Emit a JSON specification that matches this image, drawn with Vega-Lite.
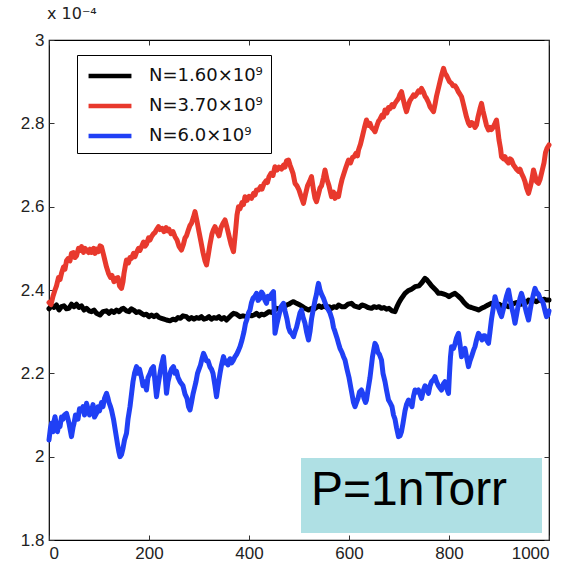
{
  "$schema": "https://vega.github.io/schema/vega-lite/v6.json",
  "width": 500,
  "height": 500,
  "autosize": "none",
  "padding": {"left": 49, "top": 40, "right": 27, "bottom": 26},
  "background": "white",
  "title": {"text": "x 10⁻⁴", "anchor": "start", "frame": "group", "offset": 9, "fontSize": 16, "fontWeight": "normal", "font": "DejaVu Sans", "color": "#222", "dx": -2},
  "config": {
    "view": {"stroke": "black", "strokeWidth": 1.2},
    "axis": {"grid": false, "domain": false, "ticks": true, "tickSize": 5, "offset": -5, "tickColor": "#333", "labelFont": "Liberation Sans", "labelFontSize": 17, "labelColor": "#222", "title": null, "labelPadding": 5}
  },
  "datasets": {
    "lines": [
{"s":"a","x":0,"y":2.355},{"s":"a","x":5,"y":2.362},{"s":"a","x":10,"y":2.358},{"s":"a","x":15,"y":2.364},{"s":"a","x":20,"y":2.352},{"s":"a","x":25,"y":2.36},{"s":"a","x":30,"y":2.362},{"s":"a","x":35,"y":2.355},{"s":"a","x":40,"y":2.356},{"s":"a","x":45,"y":2.366},{"s":"a","x":50,"y":2.36},{"s":"a","x":55,"y":2.366},{"s":"a","x":60,"y":2.358},{"s":"a","x":65,"y":2.362},{"s":"a","x":70,"y":2.352},{"s":"a","x":75,"y":2.356},{"s":"a","x":80,"y":2.35},{"s":"a","x":85,"y":2.348},{"s":"a","x":90,"y":2.352},{"s":"a","x":95,"y":2.344},{"s":"a","x":102,"y":2.34},{"s":"a","x":108,"y":2.348},{"s":"a","x":115,"y":2.35},{"s":"a","x":120,"y":2.344},{"s":"a","x":125,"y":2.35},{"s":"a","x":130,"y":2.346},{"s":"a","x":135,"y":2.352},{"s":"a","x":140,"y":2.348},{"s":"a","x":145,"y":2.354},{"s":"a","x":149,"y":2.356},{"s":"a","x":155,"y":2.35},{"s":"a","x":160,"y":2.348},{"s":"a","x":165,"y":2.355},{"s":"a","x":169,"y":2.352},{"s":"a","x":175,"y":2.346},{"s":"a","x":180,"y":2.348},{"s":"a","x":185,"y":2.344},{"s":"a","x":190,"y":2.34},{"s":"a","x":195,"y":2.342},{"s":"a","x":200,"y":2.336},{"s":"a","x":205,"y":2.34},{"s":"a","x":210,"y":2.336},{"s":"a","x":215,"y":2.34},{"s":"a","x":220,"y":2.334},{"s":"a","x":225,"y":2.332},{"s":"a","x":230,"y":2.33},{"s":"a","x":235,"y":2.328},{"s":"a","x":242,"y":2.326},{"s":"a","x":248,"y":2.33},{"s":"a","x":253,"y":2.328},{"s":"a","x":258,"y":2.334},{"s":"a","x":263,"y":2.332},{"s":"a","x":268,"y":2.338},{"s":"a","x":275,"y":2.336},{"s":"a","x":280,"y":2.33},{"s":"a","x":285,"y":2.334},{"s":"a","x":290,"y":2.33},{"s":"a","x":295,"y":2.334},{"s":"a","x":300,"y":2.332},{"s":"a","x":305,"y":2.336},{"s":"a","x":310,"y":2.33},{"s":"a","x":315,"y":2.332},{"s":"a","x":320,"y":2.336},{"s":"a","x":325,"y":2.33},{"s":"a","x":330,"y":2.334},{"s":"a","x":335,"y":2.332},{"s":"a","x":340,"y":2.336},{"s":"a","x":345,"y":2.33},{"s":"a","x":350,"y":2.334},{"s":"a","x":355,"y":2.328},{"s":"a","x":360,"y":2.334},{"s":"a","x":365,"y":2.34},{"s":"a","x":369,"y":2.344},{"s":"a","x":375,"y":2.342},{"s":"a","x":382,"y":2.336},{"s":"a","x":388,"y":2.338},{"s":"a","x":395,"y":2.336},{"s":"a","x":400,"y":2.34},{"s":"a","x":405,"y":2.338},{"s":"a","x":410,"y":2.34},{"s":"a","x":415,"y":2.344},{"s":"a","x":420,"y":2.338},{"s":"a","x":425,"y":2.342},{"s":"a","x":430,"y":2.34},{"s":"a","x":435,"y":2.344},{"s":"a","x":440,"y":2.348},{"s":"a","x":445,"y":2.346},{"s":"a","x":450,"y":2.35},{"s":"a","x":455,"y":2.356},{"s":"a","x":460,"y":2.354},{"s":"a","x":465,"y":2.36},{"s":"a","x":470,"y":2.358},{"s":"a","x":475,"y":2.364},{"s":"a","x":480,"y":2.366},{"s":"a","x":485,"y":2.37},{"s":"a","x":489,"y":2.372},{"s":"a","x":495,"y":2.368},{"s":"a","x":502,"y":2.364},{"s":"a","x":507,"y":2.36},{"s":"a","x":512,"y":2.356},{"s":"a","x":519,"y":2.352},{"s":"a","x":525,"y":2.356},{"s":"a","x":530,"y":2.354},{"s":"a","x":535,"y":2.358},{"s":"a","x":540,"y":2.362},{"s":"a","x":545,"y":2.358},{"s":"a","x":550,"y":2.362},{"s":"a","x":555,"y":2.358},{"s":"a","x":560,"y":2.36},{"s":"a","x":565,"y":2.356},{"s":"a","x":570,"y":2.36},{"s":"a","x":575,"y":2.358},{"s":"a","x":579,"y":2.364},{"s":"a","x":585,"y":2.36},{"s":"a","x":592,"y":2.36},{"s":"a","x":598,"y":2.366},{"s":"a","x":605,"y":2.368},{"s":"a","x":610,"y":2.362},{"s":"a","x":615,"y":2.36},{"s":"a","x":620,"y":2.358},{"s":"a","x":626,"y":2.364},{"s":"a","x":632,"y":2.362},{"s":"a","x":638,"y":2.358},{"s":"a","x":645,"y":2.356},{"s":"a","x":650,"y":2.36},{"s":"a","x":655,"y":2.358},{"s":"a","x":660,"y":2.36},{"s":"a","x":665,"y":2.356},{"s":"a","x":670,"y":2.358},{"s":"a","x":675,"y":2.354},{"s":"a","x":680,"y":2.356},{"s":"a","x":686,"y":2.35},{"s":"a","x":692,"y":2.348},{"s":"a","x":696,"y":2.36},{"s":"a","x":700,"y":2.37},{"s":"a","x":705,"y":2.38},{"s":"a","x":712,"y":2.392},{"s":"a","x":718,"y":2.398},{"s":"a","x":725,"y":2.402},{"s":"a","x":732,"y":2.408},{"s":"a","x":740,"y":2.41},{"s":"a","x":746,"y":2.418},{"s":"a","x":752,"y":2.428},{"s":"a","x":756,"y":2.424},{"s":"a","x":760,"y":2.418},{"s":"a","x":765,"y":2.41},{"s":"a","x":770,"y":2.404},{"s":"a","x":775,"y":2.398},{"s":"a","x":779,"y":2.392},{"s":"a","x":785,"y":2.392},{"s":"a","x":790,"y":2.39},{"s":"a","x":795,"y":2.388},{"s":"a","x":800,"y":2.384},{"s":"a","x":805,"y":2.388},{"s":"a","x":812,"y":2.392},{"s":"a","x":818,"y":2.386},{"s":"a","x":825,"y":2.378},{"s":"a","x":830,"y":2.37},{"s":"a","x":835,"y":2.364},{"s":"a","x":839,"y":2.36},{"s":"a","x":845,"y":2.358},{"s":"a","x":850,"y":2.356},{"s":"a","x":855,"y":2.354},{"s":"a","x":859,"y":2.352},{"s":"a","x":865,"y":2.356},{"s":"a","x":872,"y":2.36},{"s":"a","x":878,"y":2.364},{"s":"a","x":885,"y":2.368},{"s":"a","x":892,"y":2.364},{"s":"a","x":900,"y":2.366},{"s":"a","x":905,"y":2.362},{"s":"a","x":912,"y":2.364},{"s":"a","x":919,"y":2.36},{"s":"a","x":925,"y":2.364},{"s":"a","x":930,"y":2.368},{"s":"a","x":935,"y":2.37},{"s":"a","x":940,"y":2.366},{"s":"a","x":945,"y":2.366},{"s":"a","x":950,"y":2.372},{"s":"a","x":955,"y":2.37},{"s":"a","x":959,"y":2.376},{"s":"a","x":965,"y":2.372},{"s":"a","x":970,"y":2.375},{"s":"a","x":975,"y":2.372},{"s":"a","x":980,"y":2.376},{"s":"a","x":985,"y":2.374},{"s":"a","x":990,"y":2.378},{"s":"a","x":995,"y":2.376},{"s":"a","x":1000,"y":2.376},
{"s":"b","x":0,"y":2.37},{"s":"b","x":4,"y":2.365},{"s":"b","x":8,"y":2.385},{"s":"b","x":12,"y":2.4},{"s":"b","x":15,"y":2.41},{"s":"b","x":19,"y":2.43},{"s":"b","x":22,"y":2.425},{"s":"b","x":25,"y":2.44},{"s":"b","x":29,"y":2.455},{"s":"b","x":32,"y":2.45},{"s":"b","x":35,"y":2.47},{"s":"b","x":38,"y":2.475},{"s":"b","x":42,"y":2.47},{"s":"b","x":45,"y":2.488},{"s":"b","x":49,"y":2.49},{"s":"b","x":52,"y":2.478},{"s":"b","x":55,"y":2.482},{"s":"b","x":59,"y":2.5},{"s":"b","x":62,"y":2.495},{"s":"b","x":65,"y":2.504},{"s":"b","x":69,"y":2.49},{"s":"b","x":72,"y":2.5},{"s":"b","x":75,"y":2.496},{"s":"b","x":79,"y":2.49},{"s":"b","x":82,"y":2.498},{"s":"b","x":85,"y":2.49},{"s":"b","x":89,"y":2.5},{"s":"b","x":92,"y":2.488},{"s":"b","x":95,"y":2.498},{"s":"b","x":99,"y":2.492},{"s":"b","x":102,"y":2.506},{"s":"b","x":105,"y":2.504},{"s":"b","x":108,"y":2.49},{"s":"b","x":112,"y":2.47},{"s":"b","x":115,"y":2.455},{"s":"b","x":119,"y":2.44},{"s":"b","x":123,"y":2.43},{"s":"b","x":126,"y":2.435},{"s":"b","x":130,"y":2.42},{"s":"b","x":134,"y":2.428},{"s":"b","x":138,"y":2.43},{"s":"b","x":141,"y":2.41},{"s":"b","x":145,"y":2.404},{"s":"b","x":148,"y":2.42},{"s":"b","x":150,"y":2.44},{"s":"b","x":153,"y":2.46},{"s":"b","x":155,"y":2.472},{"s":"b","x":159,"y":2.465},{"s":"b","x":162,"y":2.478},{"s":"b","x":165,"y":2.476},{"s":"b","x":169,"y":2.488},{"s":"b","x":172,"y":2.48},{"s":"b","x":175,"y":2.49},{"s":"b","x":179,"y":2.5},{"s":"b","x":182,"y":2.495},{"s":"b","x":185,"y":2.504},{"s":"b","x":189,"y":2.515},{"s":"b","x":192,"y":2.505},{"s":"b","x":195,"y":2.51},{"s":"b","x":199,"y":2.525},{"s":"b","x":202,"y":2.52},{"s":"b","x":205,"y":2.528},{"s":"b","x":209,"y":2.535},{"s":"b","x":212,"y":2.538},{"s":"b","x":215,"y":2.545},{"s":"b","x":219,"y":2.552},{"s":"b","x":222,"y":2.545},{"s":"b","x":226,"y":2.548},{"s":"b","x":230,"y":2.54},{"s":"b","x":234,"y":2.55},{"s":"b","x":237,"y":2.542},{"s":"b","x":240,"y":2.546},{"s":"b","x":244,"y":2.535},{"s":"b","x":248,"y":2.54},{"s":"b","x":252,"y":2.528},{"s":"b","x":256,"y":2.52},{"s":"b","x":260,"y":2.505},{"s":"b","x":265,"y":2.496},{"s":"b","x":269,"y":2.51},{"s":"b","x":272,"y":2.525},{"s":"b","x":275,"y":2.53},{"s":"b","x":279,"y":2.545},{"s":"b","x":282,"y":2.555},{"s":"b","x":285,"y":2.56},{"s":"b","x":289,"y":2.575},{"s":"b","x":292,"y":2.588},{"s":"b","x":296,"y":2.565},{"s":"b","x":300,"y":2.54},{"s":"b","x":304,"y":2.515},{"s":"b","x":308,"y":2.49},{"s":"b","x":312,"y":2.47},{"s":"b","x":315,"y":2.46},{"s":"b","x":318,"y":2.48},{"s":"b","x":322,"y":2.51},{"s":"b","x":326,"y":2.535},{"s":"b","x":329,"y":2.545},{"s":"b","x":332,"y":2.552},{"s":"b","x":336,"y":2.54},{"s":"b","x":340,"y":2.53},{"s":"b","x":344,"y":2.55},{"s":"b","x":348,"y":2.56},{"s":"b","x":352,"y":2.568},{"s":"b","x":356,"y":2.55},{"s":"b","x":360,"y":2.53},{"s":"b","x":364,"y":2.51},{"s":"b","x":369,"y":2.492},{"s":"b","x":373,"y":2.54},{"s":"b","x":376,"y":2.58},{"s":"b","x":379,"y":2.6},{"s":"b","x":382,"y":2.595},{"s":"b","x":386,"y":2.61},{"s":"b","x":389,"y":2.605},{"s":"b","x":392,"y":2.624},{"s":"b","x":396,"y":2.615},{"s":"b","x":400,"y":2.625},{"s":"b","x":405,"y":2.62},{"s":"b","x":409,"y":2.632},{"s":"b","x":412,"y":2.628},{"s":"b","x":415,"y":2.64},{"s":"b","x":419,"y":2.64},{"s":"b","x":423,"y":2.648},{"s":"b","x":426,"y":2.642},{"s":"b","x":430,"y":2.655},{"s":"b","x":434,"y":2.662},{"s":"b","x":437,"y":2.658},{"s":"b","x":440,"y":2.672},{"s":"b","x":444,"y":2.68},{"s":"b","x":448,"y":2.675},{"s":"b","x":452,"y":2.696},{"s":"b","x":456,"y":2.688},{"s":"b","x":460,"y":2.695},{"s":"b","x":465,"y":2.69},{"s":"b","x":469,"y":2.7},{"s":"b","x":472,"y":2.695},{"s":"b","x":475,"y":2.71},{"s":"b","x":479,"y":2.712},{"s":"b","x":482,"y":2.7},{"s":"b","x":485,"y":2.69},{"s":"b","x":488,"y":2.68},{"s":"b","x":492,"y":2.656},{"s":"b","x":496,"y":2.65},{"s":"b","x":500,"y":2.64},{"s":"b","x":504,"y":2.625},{"s":"b","x":509,"y":2.608},{"s":"b","x":513,"y":2.63},{"s":"b","x":517,"y":2.65},{"s":"b","x":521,"y":2.66},{"s":"b","x":525,"y":2.672},{"s":"b","x":529,"y":2.64},{"s":"b","x":532,"y":2.62},{"s":"b","x":535,"y":2.612},{"s":"b","x":539,"y":2.63},{"s":"b","x":542,"y":2.645},{"s":"b","x":545,"y":2.65},{"s":"b","x":549,"y":2.67},{"s":"b","x":552,"y":2.688},{"s":"b","x":556,"y":2.665},{"s":"b","x":560,"y":2.65},{"s":"b","x":565,"y":2.624},{"s":"b","x":569,"y":2.635},{"s":"b","x":572,"y":2.62},{"s":"b","x":576,"y":2.63},{"s":"b","x":579,"y":2.624},{"s":"b","x":583,"y":2.65},{"s":"b","x":586,"y":2.665},{"s":"b","x":590,"y":2.68},{"s":"b","x":594,"y":2.695},{"s":"b","x":597,"y":2.705},{"s":"b","x":599,"y":2.712},{"s":"b","x":603,"y":2.705},{"s":"b","x":607,"y":2.718},{"s":"b","x":610,"y":2.72},{"s":"b","x":614,"y":2.728},{"s":"b","x":617,"y":2.722},{"s":"b","x":619,"y":2.736},{"s":"b","x":623,"y":2.75},{"s":"b","x":627,"y":2.77},{"s":"b","x":631,"y":2.79},{"s":"b","x":635,"y":2.808},{"s":"b","x":639,"y":2.795},{"s":"b","x":642,"y":2.8},{"s":"b","x":645,"y":2.79},{"s":"b","x":649,"y":2.785},{"s":"b","x":652,"y":2.78},{"s":"b","x":656,"y":2.795},{"s":"b","x":659,"y":2.805},{"s":"b","x":662,"y":2.81},{"s":"b","x":666,"y":2.82},{"s":"b","x":669,"y":2.815},{"s":"b","x":672,"y":2.832},{"s":"b","x":676,"y":2.825},{"s":"b","x":679,"y":2.838},{"s":"b","x":682,"y":2.835},{"s":"b","x":686,"y":2.845},{"s":"b","x":689,"y":2.84},{"s":"b","x":692,"y":2.848},{"s":"b","x":696,"y":2.855},{"s":"b","x":699,"y":2.86},{"s":"b","x":702,"y":2.87},{"s":"b","x":705,"y":2.876},{"s":"b","x":708,"y":2.86},{"s":"b","x":712,"y":2.84},{"s":"b","x":715,"y":2.828},{"s":"b","x":719,"y":2.845},{"s":"b","x":722,"y":2.855},{"s":"b","x":725,"y":2.86},{"s":"b","x":729,"y":2.868},{"s":"b","x":732,"y":2.865},{"s":"b","x":735,"y":2.87},{"s":"b","x":739,"y":2.878},{"s":"b","x":742,"y":2.875},{"s":"b","x":745,"y":2.884},{"s":"b","x":749,"y":2.875},{"s":"b","x":752,"y":2.865},{"s":"b","x":755,"y":2.86},{"s":"b","x":759,"y":2.85},{"s":"b","x":762,"y":2.84},{"s":"b","x":765,"y":2.835},{"s":"b","x":769,"y":2.828},{"s":"b","x":772,"y":2.845},{"s":"b","x":775,"y":2.865},{"s":"b","x":778,"y":2.88},{"s":"b","x":782,"y":2.9},{"s":"b","x":785,"y":2.915},{"s":"b","x":789,"y":2.932},{"s":"b","x":792,"y":2.92},{"s":"b","x":795,"y":2.915},{"s":"b","x":797,"y":2.91},{"s":"b","x":801,"y":2.9},{"s":"b","x":805,"y":2.896},{"s":"b","x":808,"y":2.89},{"s":"b","x":812,"y":2.89},{"s":"b","x":815,"y":2.885},{"s":"b","x":819,"y":2.875},{"s":"b","x":822,"y":2.87},{"s":"b","x":825,"y":2.864},{"s":"b","x":828,"y":2.85},{"s":"b","x":832,"y":2.83},{"s":"b","x":835,"y":2.815},{"s":"b","x":839,"y":2.8},{"s":"b","x":842,"y":2.795},{"s":"b","x":845,"y":2.802},{"s":"b","x":848,"y":2.8},{"s":"b","x":852,"y":2.79},{"s":"b","x":855,"y":2.796},{"s":"b","x":858,"y":2.815},{"s":"b","x":862,"y":2.835},{"s":"b","x":865,"y":2.848},{"s":"b","x":868,"y":2.83},{"s":"b","x":872,"y":2.81},{"s":"b","x":875,"y":2.795},{"s":"b","x":879,"y":2.784},{"s":"b","x":882,"y":2.79},{"s":"b","x":885,"y":2.785},{"s":"b","x":888,"y":2.79},{"s":"b","x":892,"y":2.8},{"s":"b","x":895,"y":2.808},{"s":"b","x":898,"y":2.78},{"s":"b","x":900,"y":2.76},{"s":"b","x":903,"y":2.74},{"s":"b","x":905,"y":2.72},{"s":"b","x":909,"y":2.715},{"s":"b","x":912,"y":2.72},{"s":"b","x":915,"y":2.71},{"s":"b","x":919,"y":2.705},{"s":"b","x":922,"y":2.715},{"s":"b","x":925,"y":2.712},{"s":"b","x":929,"y":2.7},{"s":"b","x":932,"y":2.695},{"s":"b","x":935,"y":2.69},{"s":"b","x":939,"y":2.685},{"s":"b","x":942,"y":2.69},{"s":"b","x":945,"y":2.68},{"s":"b","x":949,"y":2.67},{"s":"b","x":952,"y":2.66},{"s":"b","x":955,"y":2.645},{"s":"b","x":959,"y":2.632},{"s":"b","x":962,"y":2.645},{"s":"b","x":965,"y":2.66},{"s":"b","x":969,"y":2.688},{"s":"b","x":972,"y":2.675},{"s":"b","x":975,"y":2.66},{"s":"b","x":979,"y":2.656},{"s":"b","x":982,"y":2.665},{"s":"b","x":985,"y":2.68},{"s":"b","x":987,"y":2.69},{"s":"b","x":990,"y":2.705},{"s":"b","x":993,"y":2.73},{"s":"b","x":996,"y":2.74},{"s":"b","x":1000,"y":2.748},
{"s":"c","x":0,"y":2.04},{"s":"c","x":3,"y":2.07},{"s":"c","x":5,"y":2.08},{"s":"c","x":8,"y":2.06},{"s":"c","x":10,"y":2.085},{"s":"c","x":12,"y":2.096},{"s":"c","x":15,"y":2.075},{"s":"c","x":17,"y":2.06},{"s":"c","x":20,"y":2.08},{"s":"c","x":22,"y":2.072},{"s":"c","x":25,"y":2.095},{"s":"c","x":28,"y":2.09},{"s":"c","x":31,"y":2.1},{"s":"c","x":35,"y":2.104},{"s":"c","x":38,"y":2.09},{"s":"c","x":40,"y":2.08},{"s":"c","x":43,"y":2.06},{"s":"c","x":45,"y":2.048},{"s":"c","x":48,"y":2.07},{"s":"c","x":50,"y":2.08},{"s":"c","x":53,"y":2.1},{"s":"c","x":55,"y":2.096},{"s":"c","x":58,"y":2.09},{"s":"c","x":61,"y":2.115},{"s":"c","x":65,"y":2.11},{"s":"c","x":68,"y":2.12},{"s":"c","x":71,"y":2.1},{"s":"c","x":75,"y":2.128},{"s":"c","x":78,"y":2.115},{"s":"c","x":81,"y":2.1},{"s":"c","x":85,"y":2.11},{"s":"c","x":88,"y":2.125},{"s":"c","x":91,"y":2.095},{"s":"c","x":95,"y":2.104},{"s":"c","x":98,"y":2.12},{"s":"c","x":101,"y":2.11},{"s":"c","x":105,"y":2.13},{"s":"c","x":108,"y":2.12},{"s":"c","x":111,"y":2.14},{"s":"c","x":115,"y":2.152},{"s":"c","x":118,"y":2.14},{"s":"c","x":120,"y":2.13},{"s":"c","x":123,"y":2.12},{"s":"c","x":125,"y":2.112},{"s":"c","x":129,"y":2.09},{"s":"c","x":133,"y":2.06},{"s":"c","x":137,"y":2.03},{"s":"c","x":140,"y":2.01},{"s":"c","x":142,"y":2.0},{"s":"c","x":145,"y":2.005},{"s":"c","x":148,"y":2.02},{"s":"c","x":151,"y":2.04},{"s":"c","x":155,"y":2.056},{"s":"c","x":158,"y":2.09},{"s":"c","x":162,"y":2.12},{"s":"c","x":165,"y":2.15},{"s":"c","x":168,"y":2.18},{"s":"c","x":171,"y":2.2},{"s":"c","x":175,"y":2.216},{"s":"c","x":178,"y":2.2},{"s":"c","x":181,"y":2.21},{"s":"c","x":185,"y":2.19},{"s":"c","x":188,"y":2.17},{"s":"c","x":191,"y":2.18},{"s":"c","x":195,"y":2.16},{"s":"c","x":198,"y":2.19},{"s":"c","x":202,"y":2.2},{"s":"c","x":205,"y":2.21},{"s":"c","x":209,"y":2.216},{"s":"c","x":212,"y":2.18},{"s":"c","x":215,"y":2.144},{"s":"c","x":218,"y":2.17},{"s":"c","x":222,"y":2.2},{"s":"c","x":225,"y":2.22},{"s":"c","x":229,"y":2.24},{"s":"c","x":232,"y":2.2},{"s":"c","x":235,"y":2.152},{"s":"c","x":238,"y":2.18},{"s":"c","x":242,"y":2.2},{"s":"c","x":245,"y":2.21},{"s":"c","x":249,"y":2.216},{"s":"c","x":252,"y":2.2},{"s":"c","x":255,"y":2.205},{"s":"c","x":258,"y":2.19},{"s":"c","x":262,"y":2.18},{"s":"c","x":265,"y":2.175},{"s":"c","x":268,"y":2.17},{"s":"c","x":272,"y":2.15},{"s":"c","x":276,"y":2.14},{"s":"c","x":279,"y":2.12},{"s":"c","x":282,"y":2.112},{"s":"c","x":285,"y":2.13},{"s":"c","x":288,"y":2.15},{"s":"c","x":290,"y":2.16},{"s":"c","x":294,"y":2.18},{"s":"c","x":297,"y":2.2},{"s":"c","x":300,"y":2.21},{"s":"c","x":303,"y":2.22},{"s":"c","x":306,"y":2.235},{"s":"c","x":309,"y":2.248},{"s":"c","x":312,"y":2.24},{"s":"c","x":315,"y":2.23},{"s":"c","x":318,"y":2.23},{"s":"c","x":322,"y":2.215},{"s":"c","x":325,"y":2.21},{"s":"c","x":328,"y":2.2},{"s":"c","x":332,"y":2.17},{"s":"c","x":335,"y":2.144},{"s":"c","x":338,"y":2.17},{"s":"c","x":342,"y":2.2},{"s":"c","x":345,"y":2.22},{"s":"c","x":349,"y":2.24},{"s":"c","x":352,"y":2.225},{"s":"c","x":355,"y":2.23},{"s":"c","x":358,"y":2.22},{"s":"c","x":362,"y":2.235},{"s":"c","x":365,"y":2.225},{"s":"c","x":368,"y":2.23},{"s":"c","x":372,"y":2.24},{"s":"c","x":375,"y":2.245},{"s":"c","x":379,"y":2.255},{"s":"c","x":382,"y":2.264},{"s":"c","x":386,"y":2.28},{"s":"c","x":390,"y":2.3},{"s":"c","x":393,"y":2.32},{"s":"c","x":396,"y":2.33},{"s":"c","x":399,"y":2.345},{"s":"c","x":402,"y":2.352},{"s":"c","x":405,"y":2.37},{"s":"c","x":408,"y":2.38},{"s":"c","x":412,"y":2.385},{"s":"c","x":415,"y":2.392},{"s":"c","x":418,"y":2.375},{"s":"c","x":422,"y":2.38},{"s":"c","x":425,"y":2.395},{"s":"c","x":428,"y":2.39},{"s":"c","x":432,"y":2.375},{"s":"c","x":435,"y":2.368},{"s":"c","x":438,"y":2.385},{"s":"c","x":442,"y":2.38},{"s":"c","x":445,"y":2.39},{"s":"c","x":449,"y":2.396},{"s":"c","x":451,"y":2.33},{"s":"c","x":452,"y":2.296},{"s":"c","x":456,"y":2.32},{"s":"c","x":460,"y":2.34},{"s":"c","x":464,"y":2.36},{"s":"c","x":469,"y":2.368},{"s":"c","x":472,"y":2.35},{"s":"c","x":476,"y":2.33},{"s":"c","x":479,"y":2.31},{"s":"c","x":482,"y":2.3},{"s":"c","x":486,"y":2.295},{"s":"c","x":489,"y":2.288},{"s":"c","x":492,"y":2.3},{"s":"c","x":495,"y":2.31},{"s":"c","x":499,"y":2.33},{"s":"c","x":502,"y":2.345},{"s":"c","x":505,"y":2.352},{"s":"c","x":508,"y":2.335},{"s":"c","x":512,"y":2.32},{"s":"c","x":515,"y":2.3},{"s":"c","x":519,"y":2.28},{"s":"c","x":522,"y":2.3},{"s":"c","x":525,"y":2.33},{"s":"c","x":528,"y":2.35},{"s":"c","x":532,"y":2.375},{"s":"c","x":535,"y":2.39},{"s":"c","x":537,"y":2.405},{"s":"c","x":539,"y":2.416},{"s":"c","x":542,"y":2.4},{"s":"c","x":545,"y":2.39},{"s":"c","x":549,"y":2.38},{"s":"c","x":552,"y":2.37},{"s":"c","x":555,"y":2.36},{"s":"c","x":559,"y":2.352},{"s":"c","x":562,"y":2.345},{"s":"c","x":566,"y":2.33},{"s":"c","x":569,"y":2.31},{"s":"c","x":572,"y":2.3},{"s":"c","x":576,"y":2.285},{"s":"c","x":579,"y":2.272},{"s":"c","x":582,"y":2.26},{"s":"c","x":586,"y":2.25},{"s":"c","x":589,"y":2.24},{"s":"c","x":592,"y":2.232},{"s":"c","x":596,"y":2.21},{"s":"c","x":600,"y":2.19},{"s":"c","x":603,"y":2.17},{"s":"c","x":606,"y":2.15},{"s":"c","x":609,"y":2.13},{"s":"c","x":612,"y":2.12},{"s":"c","x":615,"y":2.13},{"s":"c","x":618,"y":2.14},{"s":"c","x":621,"y":2.155},{"s":"c","x":625,"y":2.16},{"s":"c","x":628,"y":2.15},{"s":"c","x":630,"y":2.14},{"s":"c","x":633,"y":2.13},{"s":"c","x":635,"y":2.136},{"s":"c","x":638,"y":2.16},{"s":"c","x":642,"y":2.19},{"s":"c","x":645,"y":2.22},{"s":"c","x":647,"y":2.24},{"s":"c","x":650,"y":2.26},{"s":"c","x":652,"y":2.272},{"s":"c","x":655,"y":2.265},{"s":"c","x":658,"y":2.25},{"s":"c","x":661,"y":2.245},{"s":"c","x":665,"y":2.232},{"s":"c","x":668,"y":2.2},{"s":"c","x":672,"y":2.18},{"s":"c","x":675,"y":2.16},{"s":"c","x":679,"y":2.136},{"s":"c","x":682,"y":2.13},{"s":"c","x":686,"y":2.12},{"s":"c","x":689,"y":2.1},{"s":"c","x":692,"y":2.09},{"s":"c","x":695,"y":2.07},{"s":"c","x":699,"y":2.048},{"s":"c","x":702,"y":2.05},{"s":"c","x":705,"y":2.06},{"s":"c","x":708,"y":2.08},{"s":"c","x":712,"y":2.11},{"s":"c","x":715,"y":2.125},{"s":"c","x":719,"y":2.136},{"s":"c","x":722,"y":2.13},{"s":"c","x":726,"y":2.12},{"s":"c","x":729,"y":2.145},{"s":"c","x":732,"y":2.16},{"s":"c","x":735,"y":2.155},{"s":"c","x":739,"y":2.16},{"s":"c","x":742,"y":2.15},{"s":"c","x":745,"y":2.14},{"s":"c","x":749,"y":2.16},{"s":"c","x":752,"y":2.17},{"s":"c","x":755,"y":2.165},{"s":"c","x":759,"y":2.152},{"s":"c","x":762,"y":2.17},{"s":"c","x":765,"y":2.18},{"s":"c","x":769,"y":2.185},{"s":"c","x":772,"y":2.192},{"s":"c","x":775,"y":2.18},{"s":"c","x":779,"y":2.17},{"s":"c","x":782,"y":2.165},{"s":"c","x":785,"y":2.16},{"s":"c","x":789,"y":2.175},{"s":"c","x":792,"y":2.18},{"s":"c","x":795,"y":2.165},{"s":"c","x":799,"y":2.152},{"s":"c","x":801,"y":2.2},{"s":"c","x":803,"y":2.24},{"s":"c","x":805,"y":2.264},{"s":"c","x":809,"y":2.26},{"s":"c","x":812,"y":2.27},{"s":"c","x":815,"y":2.285},{"s":"c","x":819,"y":2.296},{"s":"c","x":822,"y":2.27},{"s":"c","x":825,"y":2.24},{"s":"c","x":829,"y":2.25},{"s":"c","x":832,"y":2.26},{"s":"c","x":835,"y":2.24},{"s":"c","x":839,"y":2.216},{"s":"c","x":842,"y":2.23},{"s":"c","x":845,"y":2.24},{"s":"c","x":849,"y":2.255},{"s":"c","x":852,"y":2.264},{"s":"c","x":855,"y":2.28},{"s":"c","x":859,"y":2.296},{"s":"c","x":862,"y":2.29},{"s":"c","x":866,"y":2.28},{"s":"c","x":869,"y":2.29},{"s":"c","x":872,"y":2.29},{"s":"c","x":875,"y":2.28},{"s":"c","x":879,"y":2.272},{"s":"c","x":882,"y":2.3},{"s":"c","x":885,"y":2.33},{"s":"c","x":889,"y":2.36},{"s":"c","x":892,"y":2.384},{"s":"c","x":895,"y":2.37},{"s":"c","x":898,"y":2.36},{"s":"c","x":902,"y":2.345},{"s":"c","x":905,"y":2.336},{"s":"c","x":909,"y":2.355},{"s":"c","x":912,"y":2.37},{"s":"c","x":915,"y":2.385},{"s":"c","x":919,"y":2.4},{"s":"c","x":922,"y":2.38},{"s":"c","x":925,"y":2.36},{"s":"c","x":929,"y":2.34},{"s":"c","x":932,"y":2.32},{"s":"c","x":935,"y":2.34},{"s":"c","x":938,"y":2.36},{"s":"c","x":942,"y":2.38},{"s":"c","x":945,"y":2.392},{"s":"c","x":949,"y":2.375},{"s":"c","x":952,"y":2.36},{"s":"c","x":955,"y":2.345},{"s":"c","x":959,"y":2.328},{"s":"c","x":962,"y":2.35},{"s":"c","x":965,"y":2.37},{"s":"c","x":969,"y":2.39},{"s":"c","x":972,"y":2.404},{"s":"c","x":975,"y":2.395},{"s":"c","x":979,"y":2.39},{"s":"c","x":982,"y":2.38},{"s":"c","x":985,"y":2.376},{"s":"c","x":988,"y":2.37},{"s":"c","x":990,"y":2.36},{"s":"c","x":993,"y":2.345},{"s":"c","x":995,"y":2.336},{"s":"c","x":998,"y":2.34},{"s":"c","x":1000,"y":2.35}
    ],
    "note": [{"label": "P=1nTorr", "x1": 504, "x2": 986, "y1": 1.997, "y2": 1.817, "tx": 524, "ty": 1.884}]
  },
  "layer": [
    {
      "data": {"name": "lines"},
      "mark": {"type": "line", "strokeWidth": 5, "strokeJoin": "round", "strokeCap": "round"},
      "encoding": {
        "x": {"field": "x", "type": "quantitative", "scale": {"domain": [0, 1000], "nice": false}, "axis": {"values": [0, 200, 400, 600, 800, 1000], "format": "d"}},
        "y": {"field": "y", "type": "quantitative", "scale": {"domain": [1.8, 3.0], "nice": false, "zero": false}, "axis": {"values": [1.8, 2.0, 2.2, 2.4, 2.6, 2.8, 3.0], "format": ".2~f"}},
        "color": {
          "field": "s", "type": "nominal",
          "scale": {"domain": ["a", "b", "c"], "range": ["#000000", "#e8392d", "#2040f5"]},
          "legend": {"orient": "none", "legendX": 28, "legendY": 15, "title": null, "symbolType": "M-2,0H2", "symbolStrokeWidth": 4.5, "symbolSize": 460, "labelFontSize": 18, "labelFont": "DejaVu Sans", "labelColor": "#111", "labelLimit": 0, "strokeColor": "black", "fillColor": "white", "padding": 8, "rowPadding": 8, "symbolOffset": 12, "labelOffset": 26,
            "labelExpr": "datum.label == 'a' ? 'N=1.60×10⁹' : datum.label == 'b' ? 'N=3.70×10⁹' : 'N=6.0×10⁹'"}
        },
        "order": {"field": "x", "type": "quantitative"}
      }
    },
    {
      "data": {"name": "note"},
      "mark": {"type": "rect", "color": "#afe0e4"},
      "encoding": {
        "x": {"field": "x1", "type": "quantitative", "axis": {"orient": "top", "labels": false, "values": [0, 200, 400, 600, 800, 1000]}},
        "x2": {"field": "x2"},
        "y": {"field": "y1", "type": "quantitative", "axis": {"orient": "right", "labels": false, "values": [1.8, 2.0, 2.2, 2.4, 2.6, 2.8, 3.0]}},
        "y2": {"field": "y2"}
      }
    },
    {
      "data": {"name": "note"},
      "mark": {"type": "text", "font": "Liberation Sans", "fontSize": 48, "align": "left", "baseline": "alphabetic", "color": "black"},
      "encoding": {
        "x": {"field": "tx", "type": "quantitative", "axis": null},
        "y": {"field": "ty", "type": "quantitative", "axis": null},
        "text": {"field": "label"}
      }
    }
  ],
  "resolve": {"axis": {"x": "independent", "y": "independent"}}
}
